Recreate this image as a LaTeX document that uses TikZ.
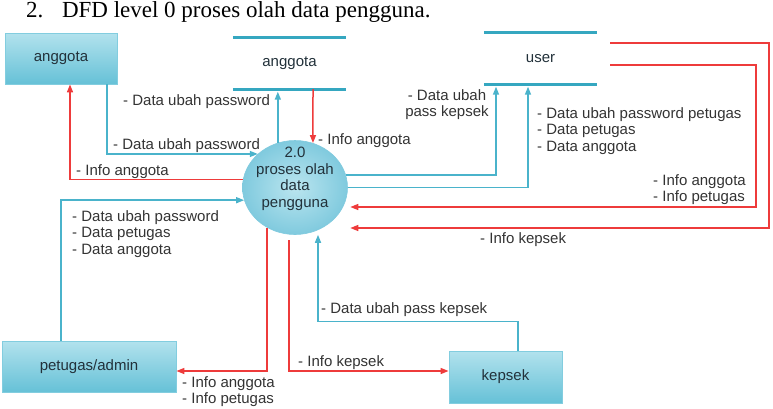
\documentclass[tikz,border=0pt]{standalone}
\usepackage{fontspec}
\setmainfont{Liberation Sans}
\newfontfamily\titlefont{Liberation Serif}
\usetikzlibrary{arrows.meta,shapes.geometric}

\definecolor{flowblue}{HTML}{4AB3CB}
\definecolor{flowred}{HTML}{EE3B3B}
\definecolor{storeline}{HTML}{35A7C0}
\definecolor{boxtop}{HTML}{B2E2ED}
\definecolor{boxbot}{HTML}{66C1D7}
\definecolor{boxedge}{HTML}{82CDDF}
\definecolor{procin}{HTML}{BAE5EF}
\definecolor{procout}{HTML}{80CADE}
\definecolor{labeltext}{HTML}{333333}
\definecolor{boxtext}{HTML}{22313A}

\begin{document}
\begin{tikzpicture}[x=1pt,y=-1pt,
  lblfont/.style={font=\fontsize{15}{16.5}\selectfont},
  entity/.style={rectangle, top color=boxtop, bottom color=boxbot, draw=boxedge,
    line width=0.8pt, minimum width=#1, minimum height=51pt, inner sep=0pt,
    text=boxtext, lblfont},
  entity/.default=113pt,
  store/.style={rectangle, minimum width=113pt, minimum height=51pt, inner sep=0pt,
    text=boxtext, lblfont},
  storeedge/.style={draw=storeline, line width=3pt},
  proc/.style={ellipse, minimum width=105pt, minimum height=94pt, inner sep=0pt,
    inner color=procin, outer color=procout, draw=procout, line width=0.6pt},
  proctext/.style={align=center, inner sep=0pt, text=boxtext, lblfont},
  bflow/.style={draw=flowblue, line width=1.5pt, -{Triangle[length=8pt,width=6pt]}},
  rflow/.style={draw=flowred, line width=1.5pt, -{Triangle[length=8pt,width=6pt]}},
  lbl/.style={anchor=north west, inner sep=0pt, align=left, text=labeltext, lblfont}
]
\useasboundingbox (0,0) rectangle (773,408);

% title
\node[anchor=base west, inner sep=0pt, font=\titlefont\fontsize{23}{26}\selectfont]
  (title) at (26,17) {2.\hspace{18.6pt}DFD level 0 proses olah data pengguna.};

% nodes
\node[entity=112pt] (anggotaE) at (61,58.5) {anggota};
\node[store] (anggotaS) at (289.5,63.5) {anggota};
\node[store] (userS) at (540.5,58.5) {user};
\node[proc] (P) at (295,187.5) {};
\node[proctext] (Ptext) at (295,179) {2.0\\proses olah\\data\\pengguna};
\node[entity=174pt] (petugas) at (89,366.5) {petugas/admin};
\node[entity=113pt, minimum height=52pt] (kepsek) at (505.5,377) {kepsek};

% data store edges
\draw[storeedge] (anggotaS.north west) -- (anggotaS.north east);
\draw[storeedge] (anggotaS.south west) -- (anggotaS.south east);
\draw[storeedge] (userS.north west) -- (userS.north east);
\draw[storeedge] (userS.south west) -- (userS.south east);

% flows
\draw[bflow] (107,0 |- anggotaE.south) |- (P.138);
\draw[rflow] (P.171) -| (70,0 |- anggotaE.south);
\draw[bflow, shorten >=2.5pt] (P.111) -- (P.111 |- anggotaS.south);
\draw[rflow] (313,0 |- anggotaS.south) -- (P.68);
\draw[bflow, shorten >=2.5pt] (P.14) -| (496,0 |- userS.south);
\draw[bflow, shorten >=2.5pt] (P.east) -| (528,0 |- userS.south);
\draw[rflow] ([xshift=13pt,yshift=15.5pt]userS.east) -- ++(159,0) |- ([xshift=2.5pt,yshift=-40.5pt]P.east);
\draw[rflow] ([xshift=13pt,yshift=-6.5pt]userS.east) -- ++(146,0) |- ([xshift=2.5pt,yshift=-19.5pt]P.east);
\draw[bflow] (61,0 |- petugas.north) |- (P.-166);
\draw[rflow] (P.-125) |- ([yshift=-4.5pt]petugas.east);
\draw[rflow] ([xshift=-6pt,yshift=-5.5pt]P.south) |- ([yshift=6pt]kepsek.west);
\draw[bflow] ([xshift=12.5pt]kepsek.north) -- ++(0,-29) -| ([xshift=23pt]P.south);

% labels
\node[lbl] (l1) at (123,94) {- Data ubah password};
\node[lbl] (l2) at (113,138) {- Data ubah password};
\node[lbl] (l3) at (76,164) {- Info anggota};
\node[lbl] (l4) at (318,133) {- Info anggota};
\node[lbl, anchor=north, align=center] (l5) at (447,89) {- Data ubah\\pass kepsek};
\node[lbl] (l6) at (537,107) {- Data ubah password petugas\\- Data petugas\\- Data anggota};
\node[lbl] (l7) at (653,174) {- Info anggota\\- Info petugas};
\node[lbl] (l8) at (480,232) {- Info kepsek};
\node[lbl] (l9) at (72,210) {- Data ubah password\\- Data petugas\\- Data anggota};
\node[lbl] (l10) at (321,302) {- Data ubah pass kepsek};
\node[lbl] (l11) at (298,355) {- Info kepsek};
\node[lbl] (l12) at (182,376) {- Info anggota\\- Info petugas};
\end{tikzpicture}
\end{document}
